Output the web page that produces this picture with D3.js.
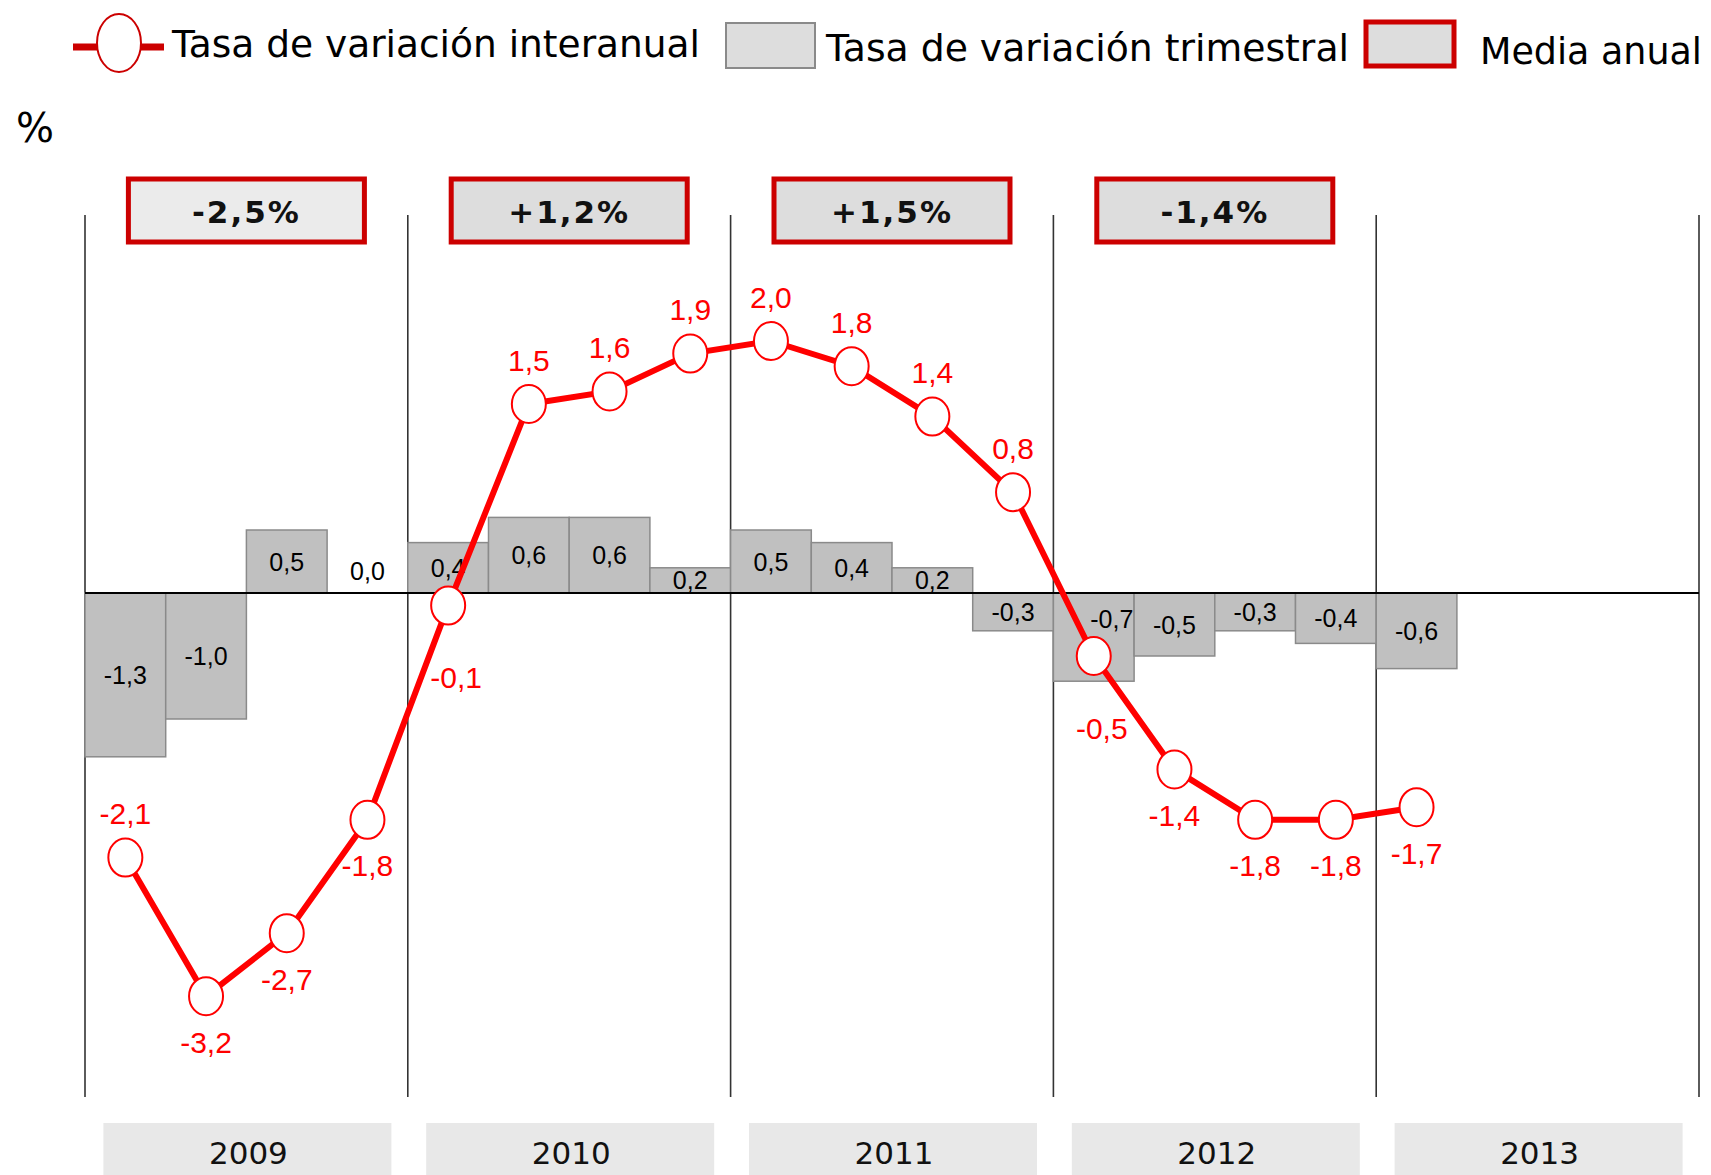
<!DOCTYPE html>
<html lang="es">
<head>
<meta charset="UTF-8">
<title>Tasa de variación</title>
<script src="https://d3js.org/d3.v7.min.js"></script>
<style>
  body { margin: 0; background: #fff; }
</style>
</head>
<body>
<script>
// data
var years = ['2009', '2010', '2011', '2012', '2013'];
var quarterNames = ['I', 'II', 'III', 'IV'];
var interanual = [-2.1, -3.2, -2.7, -1.8, -0.1, 1.5, 1.6, 1.9, 2.0, 1.8, 1.4, 0.8, -0.5, -1.4, -1.8, -1.8, -1.7];
var trimestral = [-1.3, -1.0, 0.5, 0.0, 0.4, 0.6, 0.6, 0.2, 0.5, 0.4, 0.2, -0.3, -0.7, -0.5, -0.3, -0.4, -0.6];
var mediaAnual = [-2.5, 1.2, 1.5, -1.4];
var legendLabels = ['Tasa de variación interanual', 'Tasa de variación trimestral', 'Media anual'];

var width = 1711, height = 1175;
var quarters = [];
years.forEach(function(y) { quarterNames.forEach(function(q) { quarters.push(q + ' ' + y); }); });

var es = d3.formatLocale({ decimal: ',', thousands: '.', grouping: [3], currency: ['', ' €'], minus: '-' });
var fmt = es.format('.1f');
var fmtPct = es.format('+.1f');

var red = '#ff0000', darkRed = '#cc0000';

var svg = d3.select('body').append('svg')
    .attr('width', width)
    .attr('height', height);

var x = d3.scaleBand().domain(quarters).range([85, 1699]);
var xYear = d3.scaleBand().domain(years).range([85, 1699]);
var y = d3.scaleLinear().domain([-4, 3]).range([1097, 215]);
var cx = function(i) { return x(quarters[i]) + x.bandwidth() / 2; };

// year separators
svg.append('g').selectAll('line')
    .data(years.concat(['end']))
    .join('line')
    .attr('x1', function(d) { return d === 'end' ? xYear.range()[1] : xYear(d); })
    .attr('x2', function(d) { return d === 'end' ? xYear.range()[1] : xYear(d); })
    .attr('y1', y(3))
    .attr('y2', y(-4))
    .attr('stroke', '#333')
    .attr('stroke-width', 1.6);

// quarterly bars
svg.append('g').selectAll('rect')
    .data(trimestral)
    .join('rect')
    .attr('x', function(d, i) { return x(quarters[i]); })
    .attr('width', x.bandwidth())
    .attr('y', function(d) { return y(Math.max(0, d)); })
    .attr('height', function(d) { return Math.abs(y(d) - y(0)); })
    .attr('fill', '#c0c0c0')
    .attr('stroke', function(d) { return d === 0 ? 'none' : '#8a8a8a'; })
    .attr('stroke-width', 1.5);

// a bar label moves to the top corner when the line marker sits inside the bar
function markerInBar(i) {
    var v = interanual[i], b = trimestral[i];
    return b < 0 && v < 0 && v > b;
}

svg.append('g').selectAll('text')
    .data(trimestral)
    .join('text')
    .attr('x', function(d, i) { return cx(i) + (markerInBar(i) ? 18 : 0); })
    .attr('y', function(d, i) {
        if (d === 0) return y(0) - 22;
        if (markerInBar(i)) return y(0) + 26;
        return (y(d) + y(0)) / 2;
    })
    .attr('text-anchor', 'middle')
    .attr('dominant-baseline', 'central')
    .attr('font-family', 'Liberation Sans, Arial, sans-serif')
    .attr('font-size', 25)
    .attr('fill', '#000')
    .text(function(d) { return fmt(d); });

// zero axis
svg.append('line')
    .attr('x1', 85).attr('x2', 1699)
    .attr('y1', y(0)).attr('y2', y(0))
    .attr('stroke', '#000')
    .attr('stroke-width', 2.2);

// year-on-year line
var line = d3.line()
    .x(function(d, i) { return cx(i); })
    .y(function(d) { return y(d); });

svg.append('path')
    .datum(interanual)
    .attr('d', line)
    .attr('fill', 'none')
    .attr('stroke', red)
    .attr('stroke-width', 6);

svg.append('g').selectAll('ellipse')
    .data(interanual)
    .join('ellipse')
    .attr('cx', function(d, i) { return cx(i); })
    .attr('cy', function(d) { return y(d); })
    .attr('rx', 17)
    .attr('ry', 19)
    .attr('fill', '#fff')
    .attr('stroke', red)
    .attr('stroke-width', 2);

svg.append('g').selectAll('text')
    .data(interanual)
    .join('text')
    .attr('x', function(d, i) { return cx(i) + (Math.abs(d) < 1 && d < 0 ? 8 : 0); })
    .attr('y', function(d, i) {
        if (d >= 0 || i === 0) return y(d) - 44;
        return y(d) + (d > -1 ? 72 : 46);
    })
    .attr('text-anchor', 'middle')
    .attr('dominant-baseline', 'central')
    .attr('font-family', 'Liberation Sans, Arial, sans-serif')
    .attr('font-size', 30)
    .attr('fill', red)
    .text(function(d) { return fmt(d); });

// annual average boxes
var boxes = svg.append('g').selectAll('g')
    .data(mediaAnual)
    .join('g')
    .attr('transform', function(d, i) {
        return 'translate(' + (xYear(years[i]) + xYear.bandwidth() / 2) + ',210)';
    });

boxes.append('rect')
    .attr('x', -118).attr('y', -31)
    .attr('width', 236).attr('height', 63)
    .attr('fill', function(d, i) { return i === 0 ? '#ebebeb' : '#dddddd'; })
    .attr('stroke', darkRed)
    .attr('stroke-width', 5);

boxes.append('text')
    .attr('text-anchor', 'middle')
    .attr('dominant-baseline', 'central')
    .attr('y', 2)
    .attr('font-family', 'DejaVu Sans, Verdana, sans-serif')
    .attr('font-weight', 'bold')
    .attr('font-size', 31)
    .attr('letter-spacing', 2)
    .attr('fill', '#111')
    .text(function(d) { return (d < 0 ? fmt(d) : fmtPct(d)) + '%'; });

// year labels
var yearLab = svg.append('g').selectAll('g')
    .data(years)
    .join('g')
    .attr('transform', function(d) { return 'translate(' + (xYear(d) + xYear.bandwidth() / 2) + ',0)'; });

yearLab.append('rect')
    .attr('x', -143).attr('y', 1123)
    .attr('width', 288).attr('height', 60)
    .attr('fill', '#e8e8e8');

yearLab.append('text')
    .attr('x', 2)
    .attr('y', 1153)
    .attr('text-anchor', 'middle')
    .attr('dominant-baseline', 'central')
    .attr('font-family', 'DejaVu Sans, Verdana, sans-serif')
    .attr('font-size', 31)
    .attr('fill', '#111')
    .text(function(d) { return d; });

// unit
svg.append('text')
    .attr('x', 16).attr('y', 128)
    .attr('dominant-baseline', 'central')
    .attr('font-family', 'DejaVu Sans, Verdana, sans-serif')
    .attr('font-size', 40)
    .attr('fill', '#000')
    .text('%');

// legend
var legend = svg.append('g');
legend.append('line')
    .attr('x1', 73).attr('x2', 164)
    .attr('y1', 47).attr('y2', 47)
    .attr('stroke', darkRed).attr('stroke-width', 7);
legend.append('ellipse')
    .attr('cx', 119).attr('cy', 43)
    .attr('rx', 22).attr('ry', 29)
    .attr('fill', '#fff')
    .attr('stroke', darkRed).attr('stroke-width', 2);
legend.append('rect')
    .attr('x', 726).attr('y', 23).attr('width', 89).attr('height', 45)
    .attr('fill', '#dddddd').attr('stroke', '#8a8a8a').attr('stroke-width', 2);
legend.append('rect')
    .attr('x', 1366).attr('y', 22).attr('width', 88).attr('height', 44)
    .attr('fill', '#dddddd').attr('stroke', darkRed).attr('stroke-width', 5);

var legendPos = [[172, 44, 528], [826, 48, 523], [1480, 51, 222]];
legend.selectAll('text')
    .data(legendLabels)
    .join('text')
    .attr('x', function(d, i) { return legendPos[i][0]; })
    .attr('y', function(d, i) { return legendPos[i][1]; })
    .attr('textLength', function(d, i) { return legendPos[i][2]; })
    .attr('lengthAdjust', 'spacingAndGlyphs')
    .attr('dominant-baseline', 'central')
    .attr('font-family', 'DejaVu Sans, Verdana, sans-serif')
    .attr('font-size', 38)
    .attr('fill', '#000')
    .text(function(d) { return d; });
</script>
</body>
</html>
